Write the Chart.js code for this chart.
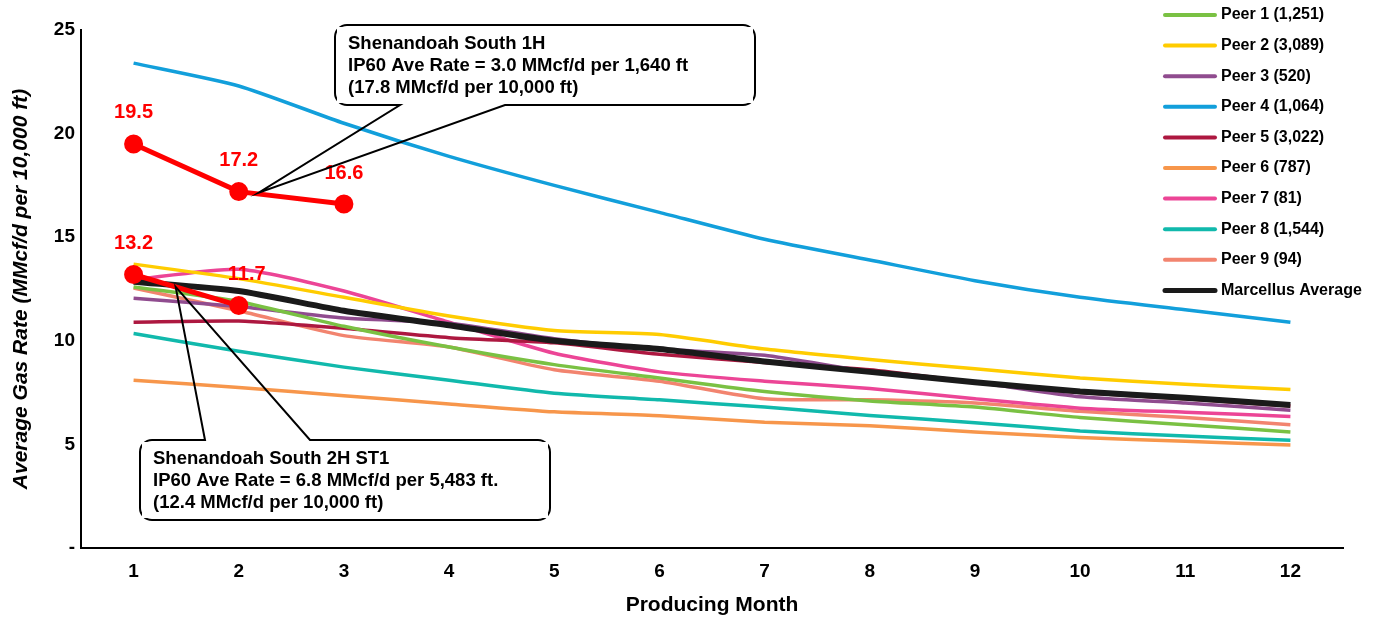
<!DOCTYPE html>
<html>
<head>
<meta charset="utf-8">
<script src="https://cdn.jsdelivr.net/npm/chart.js@4"></script>
<style>
  body { margin: 0; background: #fff; }
  #wrap { width: 1376px; height: 618px; }
</style>
</head>
<body>
<div id="wrap"><canvas id="gas-chart" width="1376" height="618"></canvas></div>
<script>
const months    = ['1', '2', '3', '4', '5', '6', '7', '8', '9', '10', '11', '12'];
const yTicks    = [0, 5, 10, 15, 20, 25];

const peer1     = [12.6, 11.9, 10.7, 9.7, 8.85, 8.2, 7.55, 7.1, 6.8, 6.3, 5.95, 5.6];
const peer2     = [13.7, 13.0, 12.1, 11.2, 10.5, 10.3, 9.6, 9.1, 8.65, 8.2, 7.9, 7.65];
const peer3     = [12.05, 11.65, 11.1, 10.85, 10.1, 9.6, 9.3, 8.5, 8.0, 7.3, 7.0, 6.65];
const peer4     = [23.4, 22.3, 20.5, 18.9, 17.5, 16.2, 14.9, 13.9, 12.9, 12.1, 11.5, 10.9];
const peer5     = [10.9, 10.95, 10.6, 10.15, 9.9, 9.35, 8.95, 8.6, 8.0, 7.5, 7.2, 6.85];
const peer6     = [8.1, 7.75, 7.35, 6.95, 6.57, 6.38, 6.07, 5.9, 5.6, 5.33, 5.15, 4.97];
const peer7     = [12.95, 13.45, 12.4, 10.9, 9.4, 8.5, 8.05, 7.7, 7.2, 6.75, 6.55, 6.35];
const peer8     = [10.35, 9.5, 8.73, 8.1, 7.47, 7.15, 6.8, 6.4, 6.05, 5.65, 5.4, 5.2];
const peer9     = [12.55, 11.45, 10.25, 9.7, 8.6, 8.05, 7.2, 7.15, 7.0, 6.6, 6.3, 5.95];
const marcellus = [12.85, 12.4, 11.45, 10.75, 10.0, 9.6, 9.0, 8.5, 8.0, 7.55, 7.25, 6.9];
const south1H   = [19.5, 17.2, 16.6];
const south2H   = [13.2, 11.7];

const peerNames  = ['Peer 1 (1,251)', 'Peer 2 (3,089)', 'Peer 3 (520)', 'Peer 4 (1,064)', 'Peer 5 (3,022)',
                    'Peer 6 (787)', 'Peer 7 (81)', 'Peer 8 (1,544)', 'Peer 9 (94)'];
const peerColors = ['#7AC143', '#FFCC00', '#904C8F', '#129FDB', '#AD1840',
                    '#F7964B', '#EC4596', '#11B9AC', '#F2846F'];
const peerData   = [peer1, peer2, peer3, peer4, peer5, peer6, peer7, peer8, peer9];

const callouts = [
    { lines: ['Shenandoah South 1H', 'IP60 Ave Rate = 3.0 MMcf/d per 1,640 ft', '(17.8 MMcf/d per 10,000 ft)'],
      box: [335, 25, 755, 105], base: [400, 505], edge: 'bottom', tip: [1.19, 17.15] },
    { lines: ['Shenandoah South 2H ST1', 'IP60 Ave Rate = 6.8 MMcf/d per 5,483 ft.', '(12.4 MMcf/d per 10,000 ft)'],
      box: [140, 440, 550, 520], base: [205, 310], edge: 'top', tip: [0.4, 12.6] }
];

const FONT = 'Arial, "Liberation Sans", sans-serif';

let datasets = [];

// red wells first so they are drawn on top
datasets.push({ label: 'Shenandoah South 1H', data: south1H, borderColor: '#FF0000', backgroundColor: '#FF0000',
                borderWidth: 5, pointRadius: 7, pointHoverRadius: 7, tension: 0, redLabels: true, labelShift: [0, 0, 0] });
datasets.push({ label: 'Shenandoah South 2H ST1', data: south2H, borderColor: '#FF0000', backgroundColor: '#FF0000',
                borderWidth: 5, pointRadius: 7, pointHoverRadius: 7, tension: 0, redLabels: true, labelShift: [0, 8] });
datasets.push({ label: 'Marcellus Average', data: marcellus, borderColor: '#1A1A1A',
                borderWidth: 6, pointRadius: 0, tension: 0.2, legend: true });
peerData.forEach( ( d, i ) => {
    datasets.push({ label: peerNames[i], data: d, borderColor: peerColors[i],
                    borderWidth: 3.5, pointRadius: 0, tension: 0.2, legend: true });
} );


// values above the red points
const redLabels = {
    id: 'redLabels',
    afterDatasetsDraw( chart ) {
        const ctx = chart.ctx;
        ctx.save();
        ctx.fillStyle = '#FF0000';
        ctx.font = 'bold 20px ' + FONT;
        ctx.textAlign = 'center';
        ctx.textBaseline = 'middle';
        chart.data.datasets.forEach( ( ds, i ) => {
            if ( !ds.redLabels ) return;
            chart.getDatasetMeta(i).data.forEach( ( pt, j ) => {
                ctx.fillText( ds.data[j].toFixed(1), pt.x + ( ds.labelShift[j] || 0 ), pt.y - 31 );
            } );
        } );
        ctx.restore();
    }
};


// callout boxes with a pointer
const calloutBoxes = {
    id: 'calloutBoxes',
    afterDraw( chart ) {
        const ctx = chart.ctx;
        const xs = chart.scales.x, ys = chart.scales.y;
        callouts.forEach( c => {
            const [l, t, r, b] = c.box;
            const rad = 12;
            const tx = xs.getPixelForValue( c.tip[0] );
            const ty = ys.getPixelForValue( c.tip[1] );
            ctx.save();
            ctx.beginPath();
            ctx.moveTo( l + rad, t );
            if ( c.edge === 'top' ) {
                ctx.lineTo( c.base[0], t );
                ctx.lineTo( tx, ty );
                ctx.lineTo( c.base[1], t );
            }
            ctx.lineTo( r - rad, t );
            ctx.arcTo( r, t, r, t + rad, rad );
            ctx.lineTo( r, b - rad );
            ctx.arcTo( r, b, r - rad, b, rad );
            if ( c.edge === 'bottom' ) {
                ctx.lineTo( c.base[1], b );
                ctx.lineTo( tx, ty );
                ctx.lineTo( c.base[0], b );
            }
            ctx.lineTo( l + rad, b );
            ctx.arcTo( l, b, l, b - rad, rad );
            ctx.lineTo( l, t + rad );
            ctx.arcTo( l, t, l + rad, t, rad );
            ctx.closePath();
            ctx.lineWidth = 2;
            ctx.strokeStyle = '#000';
            ctx.stroke();
            // white inside of the box only
            ctx.beginPath();
            ctx.rect( l + 2, t + 2, r - l - 4, b - t - 4 );
            ctx.fillStyle = '#fff';
            ctx.fill();

            ctx.fillStyle = '#000';
            ctx.font = 'bold 18.5px ' + FONT;
            ctx.textAlign = 'left';
            ctx.textBaseline = 'middle';
            c.lines.forEach( ( line, k ) => ctx.fillText( line, l + 13, t + 19 + k * 22 ) );
            ctx.restore();
        } );
    }
};


// legend on the right, peers then average
const sideLegend = {
    id: 'sideLegend',
    afterDraw( chart ) {
        const ctx = chart.ctx;
        const items = chart.data.datasets.filter( ds => ds.legend );
        const ordered = items.slice(1).concat( items[0] );
        ctx.save();
        ctx.font = 'bold 16px ' + FONT;
        ctx.textBaseline = 'middle';
        ctx.textAlign = 'left';
        ordered.forEach( ( ds, i ) => {
            const y = 15 + i * 30.6;
            ctx.beginPath();
            ctx.moveTo( 1165, y );
            ctx.lineTo( 1215, y );
            ctx.lineWidth = ds.borderWidth > 4 ? 5 : 4;
            ctx.lineCap = 'round';
            ctx.strokeStyle = ds.borderColor;
            ctx.stroke();
            ctx.fillStyle = '#000';
            ctx.fillText( ds.label, 1221, y );
        } );
        ctx.restore();
    }
};


const ctx = document.getElementById('gas-chart').getContext('2d');
const chart = new Chart(ctx, {
    type: 'line',
    data: {
        labels: months,
        datasets
    },
    options: {
        responsive: false,
        animation: false,
        layout: { padding: { top: 30, right: 33, bottom: 0, left: 0 } },
        plugins: {
            legend: { display: false },
            tooltip: { enabled: false }
        },
        scales: {
            x: {
                offset: true,
                grid: { display: false, drawTicks: false },
                border: { display: true, color: '#000', width: 2 },
                ticks: { color: '#000', font: { family: FONT, size: 19, weight: 'bold' }, padding: 12 },
                title: { display: true, text: 'Producing Month', color: '#000',
                         font: { family: FONT, size: 21, weight: 'bold' }, padding: { top: 0, bottom: 0 } },
                afterFit: s => { s.height = 70; }
            },
            y: {
                min: 0,
                max: 25,
                afterBuildTicks: s => { s.ticks = yTicks.map( v => ({ value: v }) ); },
                grid: { display: false, drawTicks: false },
                border: { display: true, color: '#000', width: 2 },
                ticks: { color: '#000', font: { family: FONT, size: 19, weight: 'bold' }, padding: 6,
                         callback: v => v === 0 ? '-' : v },
                title: { display: true, text: 'Average Gas Rate (MMcf/d per 10,000 ft)', color: '#000',
                         font: { family: FONT, size: 21, weight: 'bold', style: 'italic' }, padding: { top: 9, bottom: 0 } },
                afterFit: s => { s.width = 81; }
            }
        }
    },
    plugins: [redLabels, calloutBoxes, sideLegend]
});
</script>
</body>
</html>
